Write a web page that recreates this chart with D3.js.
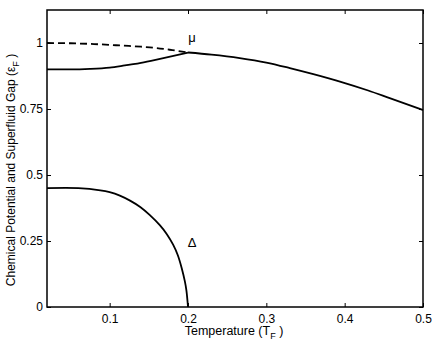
<!DOCTYPE html>
<html>
  <head>
    <meta charset="utf-8">
    <style>
      body { margin: 0; background-color: white; }
      text { font-family: "Liberation Sans", Arial, sans-serif; }
    </style>
    <script src="https://d3js.org/d3.v7.min.js"></script>
  </head>
  <body>
    <script>
    var width = 436;
    var height = 346;
    var margin = {left: 47, right: 13, top: 10, bottom: 39};

    // chemical potential, superfluid branch (solid, below Tc)
    var muLowT = [0.02, 0.05, 0.075, 0.1, 0.117, 0.14, 0.16, 0.18, 0.2];
    var muLowV = [0.9, 0.9, 0.902, 0.907, 0.914, 0.925, 0.937, 0.95, 0.964];
    // chemical potential, normal branch extended below Tc (dashed)
    var muDashT = [0.02, 0.05, 0.08, 0.117, 0.14, 0.16, 0.18, 0.2];
    var muDashV = [1.0, 0.999, 0.996, 0.99, 0.986, 0.981, 0.973, 0.964];
    // chemical potential, normal state above Tc
    var muHighT = [0.2, 0.23, 0.266, 0.3, 0.33, 0.36, 0.394, 0.43, 0.4575, 0.5];
    var muHighV = [0.964, 0.956, 0.943, 0.926, 0.905, 0.882, 0.854, 0.82, 0.791, 0.746];
    // superfluid gap
    var gapT = [0.02, 0.06, 0.088, 0.1, 0.113, 0.126, 0.139, 0.151, 0.164, 0.173, 0.181, 0.187, 0.192, 0.196, 0.198, 0.2];
    var gapV = [0.45, 0.45, 0.442, 0.435, 0.422, 0.403, 0.379, 0.349, 0.31, 0.276, 0.236, 0.196, 0.147, 0.097, 0.062, 0];

    var xTicks = [0.1, 0.2, 0.3, 0.4, 0.5];
    var yTicks = [0, 0.25, 0.5, 0.75, 1];

    var x = d3.scaleLinear().domain([0.02, 0.5]).range([margin.left, width - margin.right]);
    var y = d3.scaleLinear().domain([0, 1.125]).range([height - margin.bottom, margin.top]);

    var svg = d3.select("body").append("svg")
      .attr("width", width)
      .attr("height", height);

    function series(ts, vs) {
      return ts.map(function(t, i) { return [t, vs[i]]; });
    }

    var line = d3.line()
      .x(function(d) { return x(d[0]); })
      .y(function(d) { return y(d[1]); })
      .curve(d3.curveMonotoneX);

    var gapLine = d3.line()
      .x(function(d) { return x(d[0]); })
      .y(function(d) { return y(d[1]); })
      .curve(d3.curveCatmullRom.alpha(0.5));

    // axes, ticks inward on all four sides
    var tickLen = 4;
    svg.append("g")
      .attr("transform", "translate(0," + y.range()[0] + ")")
      .call(d3.axisBottom(x).tickValues(xTicks).tickSizeInner(-tickLen).tickSizeOuter(0).tickPadding(7).tickFormat(function(d) { return d; }));
    svg.append("g")
      .attr("transform", "translate(0," + y.range()[1] + ")")
      .call(d3.axisTop(x).tickValues(xTicks).tickSizeInner(-tickLen).tickSizeOuter(0).tickFormat(""));
    svg.append("g")
      .attr("transform", "translate(" + x.range()[0] + ",0)")
      .call(d3.axisLeft(y).tickValues(yTicks).tickSizeInner(-tickLen).tickSizeOuter(0).tickPadding(4).tickFormat(function(d) { return d; }));
    svg.append("g")
      .attr("transform", "translate(" + x.range()[1] + ",0)")
      .call(d3.axisRight(y).tickValues(yTicks).tickSizeInner(-tickLen).tickSizeOuter(0).tickFormat(""));

    svg.selectAll(".domain").remove();
    svg.selectAll(".tick line").attr("stroke", "black").attr("stroke-width", 1);
    svg.selectAll(".tick text").attr("font-size", 12).attr("fill", "black")
      .attr("font-family", "'Liberation Sans', Arial, sans-serif");

    svg.append("rect")
      .attr("x", x.range()[0])
      .attr("y", y.range()[1])
      .attr("width", x.range()[1] - x.range()[0])
      .attr("height", y.range()[0] - y.range()[1])
      .attr("fill", "none")
      .attr("stroke", "black")
      .attr("stroke-width", 1.5);

    // curves
    var lw = 1.8;
    svg.append("path")
      .attr("d", line(series(muDashT, muDashV)))
      .attr("fill", "none").attr("stroke", "black").attr("stroke-width", lw)
      .attr("stroke-dasharray", "7,4");
    svg.append("path")
      .attr("d", line(series(muLowT, muLowV)))
      .attr("fill", "none").attr("stroke", "black").attr("stroke-width", lw);
    svg.append("path")
      .attr("d", line(series(muHighT, muHighV)))
      .attr("fill", "none").attr("stroke", "black").attr("stroke-width", lw);
    svg.append("path")
      .attr("d", gapLine(series(gapT, gapV)))
      .attr("fill", "none").attr("stroke", "black").attr("stroke-width", lw);

    // curve labels
    svg.append("text").attr("x", 192).attr("y", 42)
      .attr("text-anchor", "middle").attr("font-size", 13).text("μ");
    svg.append("text").attr("x", 192).attr("y", 247)
      .attr("text-anchor", "middle").attr("font-size", 13).text("Δ");

    // axis titles
    var xt = svg.append("text")
      .attr("x", 234).attr("y", 335)
      .attr("text-anchor", "middle").attr("font-size", 12.5);
    xt.append("tspan").text("Temperature (T");
    xt.append("tspan").attr("font-size", 9).attr("dy", 4).text("F");
    xt.append("tspan").attr("dy", -4).text("  )");

    var yt = svg.append("text")
      .attr("transform", "translate(15,170) rotate(-90)")
      .attr("text-anchor", "middle").attr("font-size", 12);
    yt.append("tspan").text("Chemical Potential and Superfluid Gap (ε");
    yt.append("tspan").attr("font-size", 9).attr("dy", 4).text("F");
    yt.append("tspan").attr("dy", -4).text("  )");
    </script>
  </body>
</html>
